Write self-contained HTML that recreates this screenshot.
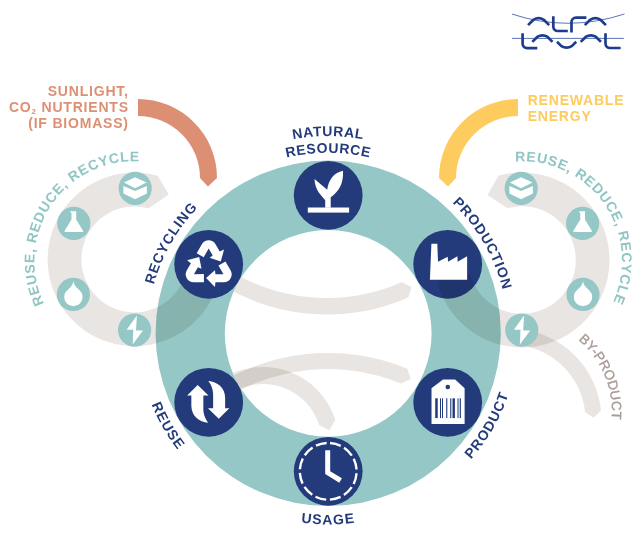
<!DOCTYPE html>
<html><head><meta charset="utf-8"><style>
html,body{margin:0;padding:0;background:#fff;}
svg{display:block;}
</style></head><body>
<svg width="640" height="550" viewBox="0 0 640 550">
<defs><clipPath id="inner"><circle cx="328.2" cy="333.3" r="103.4"/></clipPath>
<path id="tp1" d="M 131 333.3 A 197.2 197.2 0 0 1 525.4 333.3"/>
<path id="tp2" d="M 147.7 333.3 A 180.5 180.5 0 0 1 508.7 333.3"/>
<path id="tp3" d="M 238.25 490.37 A 181 181 0 0 1 418.15 176.23"/>
<path id="tp4" d="M 237.43 176.71 A 181 181 0 0 1 418.97 489.89"/>
<path id="tp5" d="M 232.45 499.14 A 191.5 191.5 0 0 0 423.95 167.46"/>
<path id="tp6" d="M 232.45 167.46 A 191.5 191.5 0 0 0 423.95 499.14"/>
<path id="tp7" d="M 137 333.3 A 191.2 191.2 0 0 0 519.4 333.3"/>
<path id="tp8" d="M 116.62 358.79 A 99.5 99.5 0 1 1 210.12 324.76"/>
<path id="tp9" d="M 446.28 196.84 A 99.5 99.5 0 1 1 429 294.83"/>
<path id="tp10" d="M 481.57 325.34 A 94 94 0 0 1 554.43 498.66"/></defs>
<rect width="640" height="550" fill="#fff"/>
<path fill="#dd8f73" d="M 138 99 A 79 79 0 0 1 217 178 L 207.97 186.59 L 200 178 A 62 62 0 0 0 138 116 Z"/>
<path fill="#fecb5e" d="M 518 99 A 79 79 0 0 0 439 178 L 448.03 186.59 L 456 178 A 62 62 0 0 1 518 116 Z"/>
<path fill="#94c7c6" fill-rule="evenodd" d="M 155.6 333.3 A 172.6 172.6 0 1 1 500.8 333.3 A 172.6 172.6 0 1 1 155.6 333.3 Z M 224.8 333.3 A 103.4 103.4 0 1 1 431.6 333.3 A 103.4 103.4 0 1 1 224.8 333.3 Z"/>
<path fill="#e9e5e2" style="mix-blend-mode:multiply" d="M 219.88 274.47 A 86.8 86.8 0 1 1 157.74 175.8 L 168.75 194.53 L 148.65 208.35 A 53 53 0 1 0 186.59 268.6 Z"/>
<g clip-path="url(#inner)">
<path fill="#e9e5e2" style="mix-blend-mode:multiply" d="M 210.85 277.88 A 202.5 202.5 0 0 0 408.39 297.42 L 411.54 286.89 L 401.76 282.31 A 186 186 0 0 1 220.31 264.36 Z"/>
<path fill="#e9e5e2" style="mix-blend-mode:multiply" d="M 208.7 390.62 A 208 208 0 0 1 407.26 368.69 L 410.94 379.01 L 401.17 383.49 A 192 192 0 0 0 217.87 403.72 Z"/>
<path fill="#e9e5e2" style="mix-blend-mode:multiply" d="M 219.41 380.74 A 76 76 0 0 1 335.36 419.77 L 329.3 430.35 L 319.18 424.96 A 59 59 0 0 0 229.16 394.67 Z"/>
</g>
<circle cx="328.2" cy="195.3" r="34.4" fill="#233b7b"/>
<circle cx="447.71" cy="264.3" r="34.4" fill="#233b7b"/>
<circle cx="447.71" cy="402.3" r="34.4" fill="#233b7b"/>
<circle cx="328.2" cy="471.3" r="34.4" fill="#233b7b"/>
<circle cx="208.69" cy="402.3" r="34.4" fill="#233b7b"/>
<circle cx="208.69" cy="264.3" r="34.4" fill="#233b7b"/>
<path fill="#e9e5e2" style="mix-blend-mode:multiply" d="M 437.1 281.17 A 87.5 87.5 0 1 0 498.47 175.72 L 487.56 194.95 L 507.53 208.18 A 53.8 53.8 0 1 1 469.8 273.02 Z"/>
<path fill="#e9e5e2" style="mix-blend-mode:multiply" d="M 517.97 328.85 A 91.5 91.5 0 0 1 601 410.44 L 593.47 417.81 L 585.09 412.11 A 75.5 75.5 0 0 0 516.58 344.79 Z"/>
<g transform="translate(521.2 188.3)"><circle r="16.6" fill="#94c7c6"/><path fill="#fff" d="M -0.15 -11.1 L 11.3 -5.7 L -0.15 0 L -11.3 -5.7 Z M -11.8 -2.3 L -0.15 2.7 L 11.7 -2.3 L 11.7 5.3 L -0.15 11 L -11.8 5.3 Z"/></g>
<g transform="translate(582.6 223.4)"><circle r="16.6" fill="#94c7c6"/><path fill="#fff" d="M -3.7 -12.1 L 2.4 -12.1 L 2.4 -4 L 9.2 7.3 Q 9.9 8.6 8.4 8.6 L -8.4 8.6 Q -9.9 8.6 -9.2 7.3 L -2.3 -4 L -2.3 -10 Z"/></g>
<g transform="translate(583 294.4)"><circle r="16.6" fill="#94c7c6"/><path fill="#fff" d="M 0 -13.4 C 0.4 -9.5 2.5 -7.5 5.6 -4.7 A 9.2 9.2 0 1 1 -5.6 -4.7 C -2.5 -7.5 -0.4 -9.5 0 -13.4 Z"/></g>
<g transform="translate(521.8 330.1)"><circle r="16.6" fill="#94c7c6"/><path fill="#fff" d="M 2.3 -14.5 L -8 -0.3 L -1.3 -0.3 L -1.9 14.5 L 8.4 0.3 L 1.4 0.3 Z"/></g>
<g transform="translate(135.2 188.3)"><circle r="16.6" fill="#94c7c6"/><path fill="#fff" d="M -0.15 -11.1 L 11.3 -5.7 L -0.15 0 L -11.3 -5.7 Z M -11.8 -2.3 L -0.15 2.7 L 11.7 -2.3 L 11.7 5.3 L -0.15 11 L -11.8 5.3 Z"/></g>
<g transform="translate(73.8 223.4)"><circle r="16.6" fill="#94c7c6"/><path fill="#fff" d="M -3.7 -12.1 L 2.4 -12.1 L 2.4 -4 L 9.2 7.3 Q 9.9 8.6 8.4 8.6 L -8.4 8.6 Q -9.9 8.6 -9.2 7.3 L -2.3 -4 L -2.3 -10 Z"/></g>
<g transform="translate(73.4 294.4)"><circle r="16.6" fill="#94c7c6"/><path fill="#fff" d="M 0 -13.4 C 0.4 -9.5 2.5 -7.5 5.6 -4.7 A 9.2 9.2 0 1 1 -5.6 -4.7 C -2.5 -7.5 -0.4 -9.5 0 -13.4 Z"/></g>
<g transform="translate(134.6 330.1)"><circle r="16.6" fill="#94c7c6"/><path fill="#fff" d="M 2.3 -14.5 L -8 -0.3 L -1.3 -0.3 L -1.9 14.5 L 8.4 0.3 L 1.4 0.3 Z"/></g>
<g transform="translate(328.2 195.3)"><path fill="#fff" d="M -3 12.5 L -3 5 C -6 1 -13.5 -5 -13.7 -16.3 L -1 -5.6 C 0.5 -16 6 -22.5 14.8 -24.5 C 15.5 -12 11 -4 2.5 2 L 2.5 12.5 Z"/><rect x="-20.4" y="12.2" width="41.3" height="5.1" fill="#fff"/></g>
<g transform="translate(447.71 264.3) translate(-0.5 0.4)"><path fill="#fff" d="M -15.8 -21 L -9.9 -21 L -9.2 -2.9 L 0.5 -7.9 L 0.8 -2.9 L 10.2 -8.5 L 10.4 -2.9 L 19.9 -8.5 L 19.9 15 L -17.3 15 Z"/></g>
<g transform="translate(208.69 264.3)"><g transform="translate(0 1.3) scale(1.04)"><path fill="#fff" transform="rotate(0)" d="M -11.56 -11.98 L -6.58 -20.6 A 7.6 7.6 0 0 1 6.58 -20.6 L 10.61 -13.63 L 14.75 -15.45 L 11.64 -3.83 L 0.9 -7.45 L 3.85 -9.73 L 0 -16.4 L -4.8 -8.08 Z"/><path fill="#fff" transform="rotate(120)" d="M -11.56 -11.98 L -6.58 -20.6 A 7.6 7.6 0 0 1 6.58 -20.6 L 10.61 -13.63 L 14.75 -15.45 L 11.64 -3.83 L 0.9 -7.45 L 3.85 -9.73 L 0 -16.4 L -4.8 -8.08 Z"/><path fill="#fff" transform="rotate(240)" d="M -11.56 -11.98 L -6.58 -20.6 A 7.6 7.6 0 0 1 6.58 -20.6 L 10.61 -13.63 L 14.75 -15.45 L 11.64 -3.83 L 0.9 -7.45 L 3.85 -9.73 L 0 -16.4 L -4.8 -8.08 Z"/></g></g>
<g transform="translate(328.2 471.3)"><circle r="28.4" fill="none" stroke="#fff" stroke-width="2.4" stroke-dasharray="11.1 3.77" stroke-dashoffset="-1.9" transform="rotate(-90)"/><path d="M -0.5 -21 L -0.5 1.3 L 12.4 9.2" fill="none" stroke="#fff" stroke-width="5" stroke-linejoin="miter"/></g>
<g transform="translate(447.71 402.3)"><path fill="#fff" d="M -4.7 -22.9 L 7.4 -22.9 L 16.9 -14 L 16.9 21.6 L -16.2 21.6 L -16.2 -14 Z"/><circle cx="0.1" cy="-15.3" r="2.3" fill="#233b7b"/><rect x="-12.5" y="-4" width="2.5" height="19.8" fill="#233b7b"/><rect x="-7.7" y="-4" width="1" height="19.8" fill="#233b7b"/><rect x="-5.7" y="-4" width="1" height="19.8" fill="#233b7b"/><rect x="-1.5" y="-4" width="1.1" height="19.8" fill="#233b7b"/><rect x="2.5" y="-4" width="1.1" height="19.8" fill="#233b7b"/><rect x="4.8" y="-4" width="2.4" height="19.8" fill="#233b7b"/><rect x="9.8" y="-4" width="1" height="19.8" fill="#233b7b"/><rect x="12" y="-4" width="1.2" height="19.8" fill="#233b7b"/></g>
<g transform="translate(208.69 402.3)"><g transform="translate(-0.45 -0.5)"><path fill="#fff" d="M -10.55 -16.9 L 0.25 -6.4 L -4.9 -6.4 L -4.9 7 C -4.9 13 -2.5 18 0 20.9 C -9 20.5 -16.9 14 -16.9 4 L -16.9 -6.4 L -21.1 -6.4 Z"/><path fill="#fff" transform="rotate(180)" d="M -10.55 -16.9 L 0.25 -6.4 L -4.9 -6.4 L -4.9 7 C -4.9 13 -2.5 18 0 20.9 C -9 20.5 -16.9 14 -16.9 4 L -16.9 -6.4 L -21.1 -6.4 Z"/></g></g>
<text font-family="Liberation Sans, sans-serif" font-weight="bold" font-size="14" fill="#233b7b" letter-spacing="0.6" text-anchor="middle" ><textPath href="#tp1" startOffset="50%">NATURAL</textPath></text>
<text font-family="Liberation Sans, sans-serif" font-weight="bold" font-size="14" fill="#233b7b" letter-spacing="0.6" text-anchor="middle" ><textPath href="#tp2" startOffset="50%">RESOURCE</textPath></text>
<text font-family="Liberation Sans, sans-serif" font-weight="bold" font-size="14" fill="#233b7b" letter-spacing="0.85" text-anchor="middle" ><textPath href="#tp3" startOffset="50%">RECYCLING</textPath></text>
<text font-family="Liberation Sans, sans-serif" font-weight="bold" font-size="14" fill="#233b7b" letter-spacing="0.85" text-anchor="middle" ><textPath href="#tp4" startOffset="50%">PRODUCTION</textPath></text>
<text font-family="Liberation Sans, sans-serif" font-weight="bold" font-size="14" fill="#233b7b" letter-spacing="1.0" text-anchor="middle" ><textPath href="#tp5" startOffset="50%">PRODUCT</textPath></text>
<text font-family="Liberation Sans, sans-serif" font-weight="bold" font-size="14" fill="#233b7b" letter-spacing="1.0" text-anchor="middle" ><textPath href="#tp6" startOffset="50%">REUSE</textPath></text>
<text font-family="Liberation Sans, sans-serif" font-weight="bold" font-size="14" fill="#233b7b" letter-spacing="1.0" text-anchor="middle" ><textPath href="#tp7" startOffset="50%">USAGE</textPath></text>
<text font-family="Liberation Sans, sans-serif" font-weight="bold" font-size="14" fill="#8fc6c4" letter-spacing="0.75" text-anchor="middle" ><textPath href="#tp8" startOffset="38.00%">REUSE, REDUCE, RECYCLE</textPath></text>
<text font-family="Liberation Sans, sans-serif" font-weight="bold" font-size="14" fill="#8fc6c4" letter-spacing="0.75" text-anchor="middle" ><textPath href="#tp9" startOffset="35.10%">REUSE, REDUCE, RECYCLE</textPath></text>
<text font-family="Liberation Sans, sans-serif" font-weight="normal" font-size="13.5" fill="#a99b94" letter-spacing="0.2" text-anchor="middle" stroke="#a99b94" stroke-width="0.35"><textPath href="#tp10" startOffset="50%">BY-PRODUCT</textPath></text>
<text x="128.8" y="95.75" font-family="Liberation Sans, sans-serif" font-weight="bold" font-size="14" fill="#dd8f73" letter-spacing="0.8" text-anchor="end">SUNLIGHT,</text>
<text x="128.8" y="111.7" font-family="Liberation Sans, sans-serif" font-weight="bold" font-size="14" fill="#dd8f73" letter-spacing="0.8" text-anchor="end">CO<tspan font-size="8" dy="2">2</tspan><tspan dy="-2"> NUTRIENTS</tspan></text>
<text x="128.8" y="127.7" font-family="Liberation Sans, sans-serif" font-weight="bold" font-size="14" fill="#dd8f73" letter-spacing="0.8" text-anchor="end">(IF BIOMASS)</text>
<text x="527.7" y="105.1" font-family="Liberation Sans, sans-serif" font-weight="bold" font-size="14" fill="#fecb5e" letter-spacing="0.8" text-anchor="start">RENEWABLE</text>
<text x="527.7" y="121.1" font-family="Liberation Sans, sans-serif" font-weight="bold" font-size="14" fill="#fecb5e" letter-spacing="0.8" text-anchor="start">ENERGY</text>
<path d="M 512 14.1 Q 568 32.5 624.5 14" fill="none" stroke="#4765ad" stroke-width="0.9"/><line x1="512" y1="38.4" x2="623.8" y2="38.4" stroke="#4765ad" stroke-width="0.9"/><g fill="none" stroke="#1e3b8d" stroke-width="2.7" stroke-linecap="butt" stroke-linejoin="round"><path d="M 528.05 25.15 L 533.4 19.8 Q 538.6 16.6 543.8 19.8 L 549.15 25.15"/><path d="M 553.3 16.2 L 553.3 26.5 A 4.5 4.5 0 0 0 557.8 31 L 567.8 31"/><path d="M 571.5 32.4 L 571.5 22.1 A 4.5 4.5 0 0 1 576 17.6 L 586.4 17.6"/><path d="M 584.8 25.15 L 590.15 19.8 Q 595.35 16.6 600.55 19.8 L 605.9 25.15"/><path d="M 522.6 33.3 L 522.6 43.6 A 4.5 4.5 0 0 0 527.1 48.1 L 537.3 48.1"/><path d="M 532.3 41.85 L 537.2 36.95 Q 542.4 33.75 547.6 36.95 L 552.5 41.85"/><path d="M 557 41.7 L 561.4 46.1 Q 566.6 49.3 571.8 46.1 L 576.2 41.7"/><path d="M 580.75 41.85 L 585.65 36.95 Q 590.85 33.75 596.05 36.95 L 600.95 41.85"/><path d="M 605.5 33.3 L 605.5 43.5 A 4.5 4.5 0 0 0 610 48 L 620.6 48"/></g>
</svg></body></html>
